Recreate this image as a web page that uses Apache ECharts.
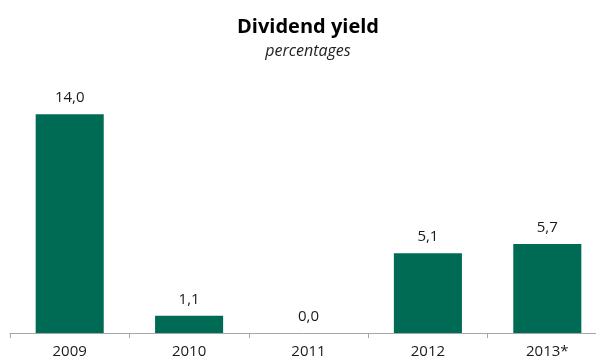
<!DOCTYPE html>
<html>
<head>
<meta charset="utf-8">
<script src="https://cdn.jsdelivr.net/npm/echarts@6/dist/echarts.min.js"></script>
<style>
  html, body { margin: 0; padding: 0; background: #fff; }
  #chart { width: 596px; height: 363px; }
</style>
</head>
<body>
<div id="chart"></div>
<script>
// Dividend yield by year, in percent
const years = ['2009', '2010', '2011', '2012', '2013*'];
const yieldPct = [14.0, 1.1, 0.0, 5.1, 5.7];

const FONT = '"Open Sans", sans-serif';
const fmt = v => v.toFixed(1).replace('.', ',');

const chart = echarts.init(document.getElementById('chart'));
chart.setOption({
  animation: false,
  graphic: [
    {
      type: 'text', x: 308, y: 27,
      style: { text: 'Dividend yield', font: 'bold 20px ' + FONT, fill: '#000',
               textAlign: 'center', textVerticalAlign: 'middle' }
    },
    {
      type: 'text', x: 308, y: 51,
      style: { text: 'percentages', font: 'italic 16px ' + FONT, fill: '#222',
               textAlign: 'center', textVerticalAlign: 'middle' }
    }
  ],
  // plot area runs slightly past the right edge of the canvas
  grid: { left: 10, width: 597, top: 83, bottom: 30,
          containLabel: false, outerBoundsMode: 'none' },
  xAxis: {
    type: 'category',
    data: years,
    axisLine: { lineStyle: { color: '#a6a6a6', width: 1 } },
    axisTick: { show: true, length: 5, lineStyle: { color: '#a6a6a6' } },
    axisLabel: { color: '#1a1a1a', fontSize: 15, fontFamily: FONT, margin: 11 }
  },
  yAxis: {
    type: 'value', min: 0, max: 16,
    show: false,
    splitLine: { show: false }
  },
  series: [{
    type: 'bar',
    data: yieldPct,
    barWidth: '57%',
    itemStyle: { color: '#006b54' },
    label: {
      show: true, position: 'top', distance: 9,
      color: '#1a1a1a', fontSize: 15, fontFamily: FONT,
      formatter: p => fmt(p.value)
    }
  }]
});
</script>
</body>
</html>
